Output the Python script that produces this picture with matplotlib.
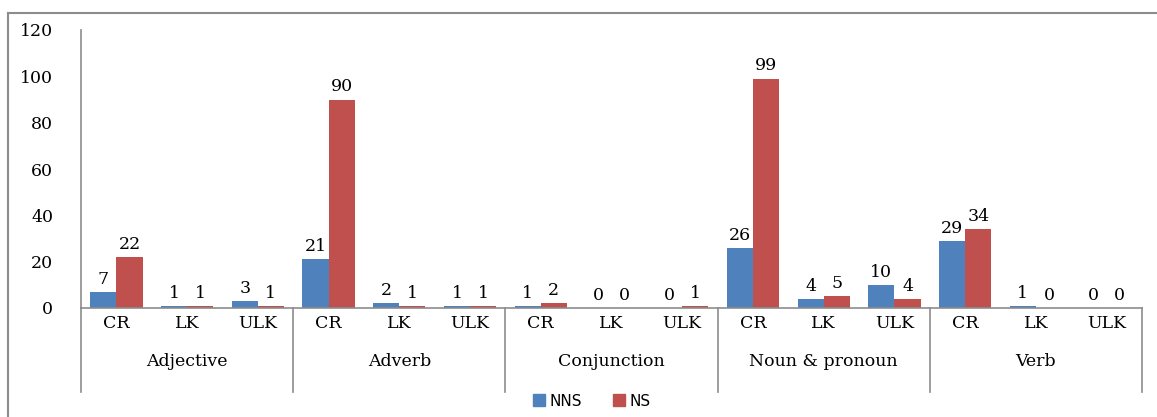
import matplotlib
matplotlib.use("Agg")
import matplotlib.pyplot as plt
from matplotlib.lines import Line2D
from matplotlib.patches import Patch
import numpy as np

groups = ["Adjective", "Adverb", "Conjunction", "Noun & pronoun", "Verb"]
subcats = ["CR", "LK", "ULK"]
nns = [7, 1, 3, 21, 2, 1, 1, 0, 0, 26, 4, 10, 29, 1, 0]
ns = [22, 1, 1, 90, 1, 1, 2, 0, 1, 99, 5, 4, 34, 0, 0]
yticks = [0, 20, 40, 60, 80, 100, 120]

blue = "#4F81BD"
red = "#C0504D"
gray = "#8C8C8C"
serif = ["DejaVu Serif"]
fs = 12.5

fig = plt.figure(figsize=(11.57, 4.17), dpi=100)
W, H = 1157, 417
ax = fig.add_axes([81 / W, 1 - 308 / H, (1142 - 81) / W, (308 - 30) / H])

n = len(nns)
x = np.arange(n)
bw = 0.37
ax.bar(x - bw / 2, nns, bw, color=blue, label="NNS")
ax.bar(x + bw / 2, ns, bw, color=red, label="NS")

for xi, v in zip(x, nns):
    ax.annotate(str(v), (xi - bw / 2, v), xytext=(0, 3), textcoords="offset points",
                ha="center", va="bottom", fontsize=fs, family=serif)
for xi, v in zip(x, ns):
    ax.annotate(str(v), (xi + bw / 2, v), xytext=(0, 3), textcoords="offset points",
                ha="center", va="bottom", fontsize=fs, family=serif)

ax.set_xlim(-0.5, n - 0.5)
ax.set_ylim(0, 120)
ax.set_yticks(yticks)
ax.set_yticklabels([str(t) for t in yticks], family=serif, fontsize=fs)
ax.tick_params(axis="y", length=0, pad=20)
ax.set_xticks(x)
ax.set_xticklabels(subcats * len(groups), family=serif, fontsize=fs)
ax.tick_params(axis="x", length=0, pad=5)

for s in ["top", "right"]:
    ax.spines[s].set_visible(False)
ax.spines["left"].set_color(gray)
ax.spines["bottom"].set_color(gray)
ax.spines["left"].set_linewidth(1.2)
ax.spines["bottom"].set_linewidth(1.2)

trans = ax.get_xaxis_transform()
ybot = (308 - 392) / (308 - 30)
for b in np.arange(-0.5, n, 3):
    ax.plot([b, b], [0, ybot], transform=trans, color=gray, lw=1.2, clip_on=False)
ygrp = (308 - 361) / (308 - 30)
for i, g in enumerate(groups):
    ax.text(3 * i + 1, ygrp, g, transform=trans, ha="center", va="center",
            family=serif, fontsize=fs)

# figure border (left and top)
fig.add_artist(Line2D([8 / W, 8 / W], [0, 1 - 13 / H], color=gray, lw=1.5))
fig.add_artist(Line2D([8 / W, 1], [1 - 13 / H, 1 - 13 / H], color=gray, lw=1.5))

handles = [Patch(color=blue, label="NNS"), Patch(color=red, label="NS")]
fig.legend(handles=handles, loc="center", bbox_to_anchor=(592 / W, 1 - 401 / H),
           ncol=2, frameon=False, handlelength=0.8, handleheight=0.8,
           handletextpad=0.3, columnspacing=2.0,
           prop={"family": "DejaVu Sans", "size": 11})

fig.savefig("out.png", dpi=100)
